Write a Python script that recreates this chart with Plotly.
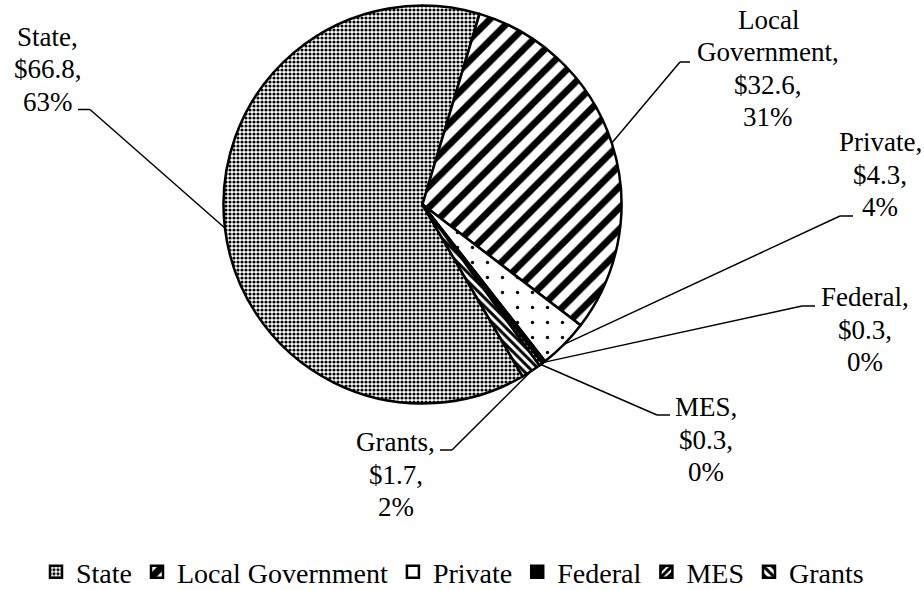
import math
import plotly.graph_objects as go

# Revenue sources ($ millions)
labels = ["State", "Local Government", "Private", "Federal", "MES", "Grants"]
values = [66.8, 32.6, 4.3, 0.3, 0.3, 1.7]

W, H = 924, 590
FONT = "Liberation Serif"

# pie geometry (pixels) and start angle of the first slice, clockwise from 12 o'clock
cx, cy, r = 422.5, 204.5, 199.0
rotation = 149.8

# data-label placement: centre x, first baseline y, leader elbow (x_join, x_end, y)
label_pos = {
    "State": dict(x=47.5, y=46, elbow=(90, 78, 109.5)),
    "Local Government": dict(x=768, y=29, elbow=(680, 690, 62)),
    "Private": dict(x=880, y=151.5, elbow=(840, 853, 216)),
    "Federal": dict(x=865, y=306.5, elbow=(802, 815, 306)),
    "MES": dict(x=705.5, y=416.5, elbow=(657, 670, 415)),
    "Grants": dict(x=395.5, y=451.5, elbow=(452, 440, 450)),
}
LINE_PITCH = 32.5
LABEL_SIZE = 27


def px(x, y):
    return x / W, 1 - y / H


total = sum(values)

fig = go.Figure(
    go.Pie(
        labels=labels,
        values=values,
        sort=False,
        direction="clockwise",
        rotation=rotation,
        textinfo="none",
        hoverinfo="label+value+percent",
        domain=dict(
            x=[(cx - r) / W, (cx + r) / W],
            y=[1 - (cy + r) / H, 1 - (cy - r) / H],
        ),
        marker=dict(
            colors=["white", "white", "white", "black", "white", "white"],
            line=dict(color="black", width=2.5),
            pattern=dict(
                shape=[".", "/", ".", "", "/", "\\"],
                size=[4, 15, 15, 8, 5, 6],
                solidity=[0.5, 0.45, 0.04, 0.5, 0.6, 0.5],
                fgcolor=["black"] * 6,
                bgcolor=["white", "white", "white", "black", "white", "white"],
                fillmode="replace",
            ),
        ),
    )
)

annotations = []
shapes = []
cum = 0.0
for lab, v in zip(labels, values):
    mid = math.radians(rotation + 360 * (cum + v / 2) / total)
    cum += v
    ax, ay = cx + r * math.sin(mid), cy - r * math.cos(mid)

    pos = label_pos[lab]
    words = lab.split(" ")
    name_lines = words[:-1] + [words[-1] + ","] if len(lab) > 10 else [lab + ","]
    lines = name_lines + [f"${v:.1f},", f"{round(100 * v / total)}%"]
    for i, t in enumerate(lines):
        x, y = px(pos["x"], pos["y"] + i * LINE_PITCH - 9.1)
        annotations.append(
            dict(
                x=x, y=y, xref="paper", yref="paper", text=t, showarrow=False,
                xanchor="center", yanchor="middle",
                font=dict(family=FONT, size=LABEL_SIZE, color="black"),
            )
        )

    xj, xe, ye = pos["elbow"]
    x0, y0 = px(ax, ay)
    x1, y1 = px(xj, ye)
    x2, _ = px(xe, ye)
    shapes.append(dict(type="line", xref="paper", yref="paper", x0=x0, y0=y0, x1=x1, y1=y1,
                       line=dict(color="black", width=1.5)))
    shapes.append(dict(type="line", xref="paper", yref="paper", x0=x1, y0=y1, x1=x2, y1=y1,
                       line=dict(color="black", width=1.5)))

fig.update_layout(
    width=W,
    height=H,
    margin=dict(l=0, r=0, t=0, b=0, autoexpand=False),
    paper_bgcolor="white",
    plot_bgcolor="white",
    font=dict(family=FONT, color="black"),
    showlegend=True,
    legend=dict(
        orientation="h",
        x=452.5 / W,
        xanchor="center",
        y=1 - 572 / H,
        yanchor="middle",
        font=dict(family=FONT, size=28, color="black"),
        bgcolor="rgba(0,0,0,0)",
    ),
    annotations=annotations,
    shapes=shapes,
)

fig.write_html("out.html")
